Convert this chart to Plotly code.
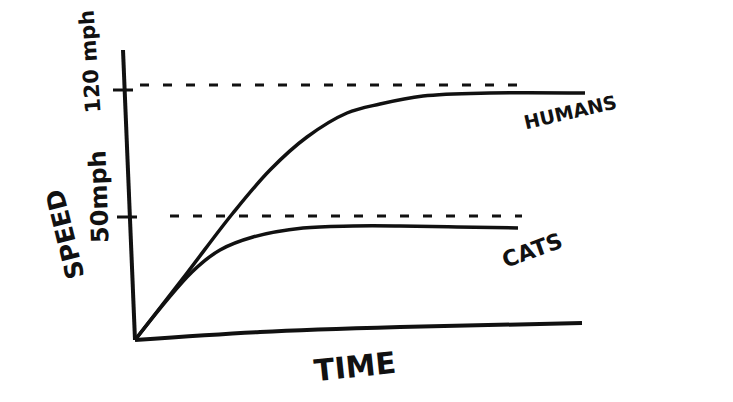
import plotly.graph_objects as go

# sketch coordinates: time in arbitrary units, speed in "drawn height" units
humans_t = [0, 1.04, 1.96, 2.7, 3.44, 4.24, 4.9, 5.76, 7.1, 9.0]
humans_v = [0, 6.7, 12.7, 17.0, 20.3, 22.7, 23.6, 24.4, 24.7, 24.7]

cats_t = [0, 1.14, 1.7, 2.36, 3.36, 4.36, 5.3, 6.44, 7.66]
cats_v = [0, 6.8, 9.0, 10.3, 11.2, 11.4, 11.4, 11.3, 11.2]

# hand drawn axes
xaxis_t = [0, 2.5, 5.3, 8.94]
xaxis_v = [0, 0.8, 1.3, 1.7]
yaxis_t = [0, -0.12, -0.24]
yaxis_v = [0, 15, 29]

speed_ticks = [12.3, 25.0]
tick_labels = ["50mph", "120 mph"]
tick_x0 = [-0.36, -0.44]
tick_x1 = [0.04, -0.04]

# dashed reference levels
ref_v = [12.4, 25.5]
ref_t0 = [0.7, 0.1]
ref_t1 = [7.74, 7.9]

INK = "#111111"
FONT = "DejaVu Sans"

fig = go.Figure()

fig.add_trace(go.Scatter(x=xaxis_t, y=xaxis_v, mode="lines", line_shape="spline",
                         line=dict(color=INK, width=4)))
fig.add_trace(go.Scatter(x=yaxis_t, y=yaxis_v, mode="lines",
                         line=dict(color=INK, width=4)))

for v, a, b in zip(speed_ticks, tick_x0, tick_x1):
    fig.add_trace(go.Scatter(x=[a, b], y=[v, v], mode="lines",
                             line=dict(color=INK, width=3)))

for v, a, b in zip(ref_v, ref_t0, ref_t1):
    fig.add_trace(go.Scatter(x=[a, b], y=[v, v], mode="lines",
                             line=dict(color=INK, width=3, dash="9px,14px")))

fig.add_trace(go.Scatter(x=humans_t, y=humans_v, mode="lines", line_shape="spline",
                         line=dict(color=INK, width=3.5)))
fig.add_trace(go.Scatter(x=cats_t, y=cats_v, mode="lines", line_shape="spline",
                         line=dict(color=INK, width=3.5)))

labels = [
    (tick_labels[1], -0.9, 27.8, -94, 21),
    (tick_labels[0], -0.72, 14.3, -92, 24),
    ("SPEED", -1.4, 10.5, -104, 25),
    ("TIME", 4.4, -2.6, -6, 30),
    ("HUMANS", 8.7, 22.8, -13, 19),
    ("CATS", 7.94, 9.0, -20, 22),
]
for text, x, y, ang, size in labels:
    fig.add_annotation(x=x, y=y, text=text, textangle=ang, showarrow=False,
                       xanchor="center", yanchor="middle",
                       font=dict(family=FONT, size=size, color=INK, weight=700))

fig.update_xaxes(range=[-1.5, 10], visible=False)
fig.update_yaxes(range=[-6, 33], visible=False)
# page body adds an 8px offset, so the margins are shifted to compensate
fig.update_layout(
    width=733, height=402,
    margin=dict(l=52, r=106, t=2, b=10),
    showlegend=False,
    plot_bgcolor="white",
    paper_bgcolor="white",
)

fig.write_html("out.html")
